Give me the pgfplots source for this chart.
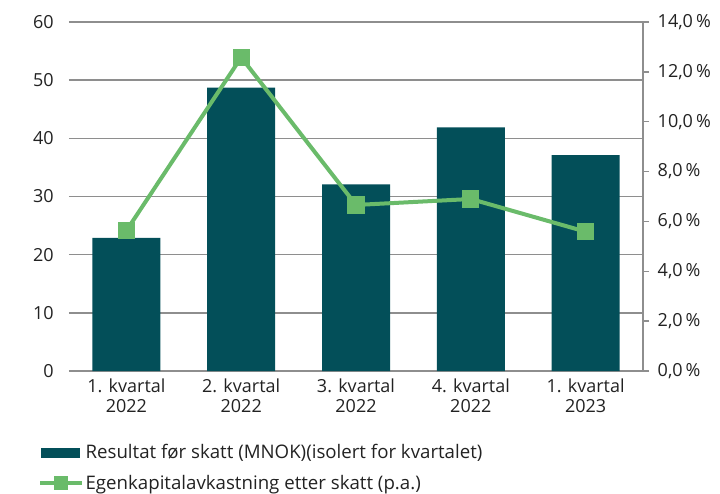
\documentclass[border=0pt]{standalone}
\usepackage{fontspec}
\setmainfont{Open Sans}
\usepackage{pgfplots}
\pgfplotsset{compat=1.18}
\definecolor{barcol}{HTML}{034F59}
\definecolor{linecol}{HTML}{6ABB6A}
\definecolor{gridcol}{HTML}{8E8E8E}
\definecolor{txtcol}{HTML}{222222}
\begin{document}
\begin{tikzpicture}
\begin{axis}[
  at={(0,0)}, anchor=south west,
  scale only axis, width=430.5pt, height=261.75pt,
  xmin=-0.5, xmax=4.5, ymin=0, ymax=60,
  ytick={0,10,...,60},
  xtick={0,...,4},
  xticklabels={{1. kvartal\\2022},{2. kvartal\\2022},{3. kvartal\\2022},{4. kvartal\\2022},{1. kvartal\\2023}},
  xticklabel style={align=center, font=\fontsize{13.5}{15.5}\selectfont, text=txtcol, yshift=-2pt},
  yticklabel style={font=\fontsize{13.5}{15.5}\selectfont, text=txtcol, xshift=-8pt},
  /pgf/number format/assume math mode=true,
  axis line style={draw=none},
  major tick length=0pt,
  ymajorgrids, grid style={gridcol, line width=1.1pt},
  clip=false,
]
\addplot[ybar, bar width=51pt, fill=barcol, draw=none] coordinates {(0,22.9) (1,48.7) (2,32.1) (3,41.9) (4,37.1)};
\end{axis}
\begin{axis}[
  at={(0,0)}, anchor=south west,
  scale only axis, width=430.5pt, height=261.75pt,
  xmin=-0.5, xmax=4.5, ymin=0, ymax=14,
  axis x line=none, axis y line*=right,
  ytick={0,2,...,14},
  yticklabels={{0,0\,\%},{2,0\,\%},{4,0\,\%},{6,0\,\%},{8,0\,\%},{10,0\,\%},{12,0\,\%},{14,0\,\%}},
  yticklabel style={font=\fontsize{13.5}{15.5}\selectfont, text=txtcol, xshift=3pt},
  y axis line style={gridcol, line width=1.1pt, -},
  ytick style={gridcol, line width=1.1pt},
  tick align=outside, major tick length=4.5pt,
  clip=false,
  legend style={at={(axis description cs:0,0)}, anchor=north west, xshift=-23.25pt, yshift=-53pt,
    draw=none, fill=none, font=\fontsize{14}{16}\selectfont, text=txtcol, row sep=6.5pt, inner sep=0pt,
    nodes={inner xsep=1.5pt}},
  legend cell align=left,
]
\addlegendimage{legend image code/.code={\fill[barcol] (1pt,-3.4pt) rectangle (29.5pt,3.4pt);}}
\addlegendentry{Resultat før skatt (MNOK)(isolert for kvartalet)}
\addplot[linecol, line width=3pt, mark=square*, mark size=5pt, mark options={fill=linecol, draw=linecol},
  legend image code/.code={\draw[linecol, line width=3pt, mark repeat=2, mark phase=2, mark=square*, mark size=3.75pt] plot coordinates {(0pt,0pt) (15.5pt,0pt) (31pt,0pt)};}]
  coordinates {(0,5.63) (1,12.58) (2,6.66) (3,6.90) (4,5.59)};
\addlegendentry{Egenkapitalavkastning etter skatt (p.a.)}
\end{axis}
\pgfresetboundingbox
\path (-51.75pt,-91.5pt) rectangle (488.25pt,278.25pt);
\end{tikzpicture}
\end{document}
